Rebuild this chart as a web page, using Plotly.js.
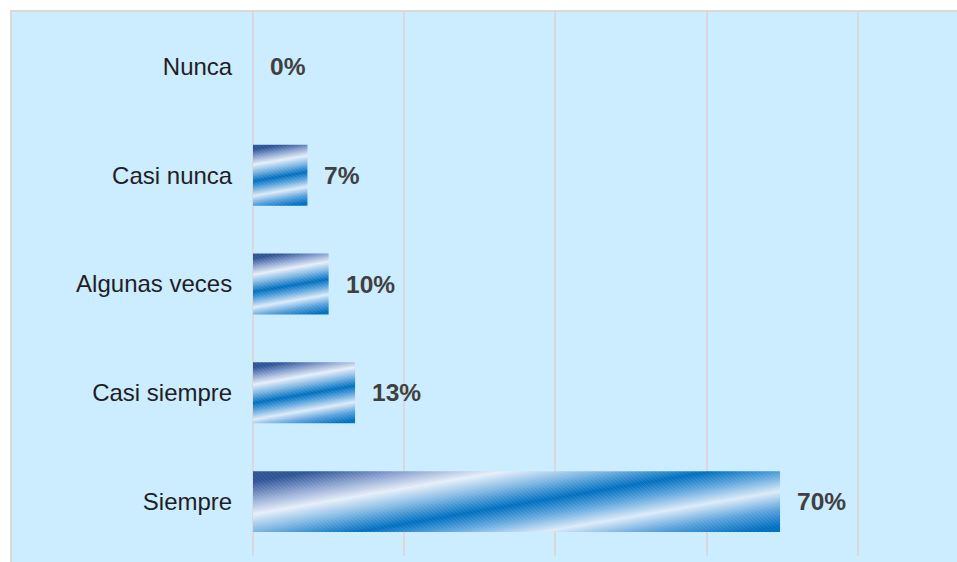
<!DOCTYPE html>
<html>
<head>
<meta charset="utf-8">
<script src="https://cdn.plot.ly/plotly-3.0.1.min.js"></script>
<style>
  html, body { margin: 0; padding: 0; background: #ffffff; }
  #chart { width: 957px; height: 562px; }
</style>
</head>
<body>
<div id="chart"></div>
<script>
// ---- data ----
const categories = ["Nunca", "Casi nunca", "Algunas veces", "Casi siempre", "Siempre"];
const values = [0, 7.2, 10, 13.5, 69.7];
const valueLabels = ["0%", "7%", "10%", "13%", "70%"];

const trace = {
  type: "bar",
  orientation: "h",
  y: categories,
  x: values,
  marker: { color: "#0070C0", line: { width: 0 } },
  hoverinfo: "none"
};

const annotations = categories.map((c, i) => ({
  x: values[i],
  y: c,
  xref: "x",
  yref: "y",
  text: "<b>" + valueLabels[i] + "</b>",
  showarrow: false,
  xanchor: "left",
  yanchor: "middle",
  xshift: 15,
  font: { family: "Liberation Sans, Arial, sans-serif", size: 24.5, color: "#404040" }
}));

const layout = {
  width: 957,
  height: 562,
  margin: { l: 253, r: 0, t: 12, b: 6, pad: 0 },
  paper_bgcolor: "#ffffff",
  plot_bgcolor: "rgba(0,0,0,0)",
  showlegend: false,
  bargap: 0.44,
  xaxis: {
    range: [0, 93.1],
    dtick: 20,
    tick0: 0,
    showticklabels: false,
    showgrid: true,
    gridcolor: "#D9D9D9",
    gridwidth: 2,
    zeroline: true,
    zerolinecolor: "#D9D9D9",
    zerolinewidth: 2,
    showline: false,
    fixedrange: true
  },
  yaxis: {
    type: "category",
    autorange: "reversed",
    showgrid: false,
    zeroline: false,
    showline: false,
    ticks: "outside",
    ticklen: 15,
    tickcolor: "rgba(0,0,0,0)",
    tickfont: { family: "Liberation Sans, Arial, sans-serif", size: 24, color: "#1f1f1f" },
    fixedrange: true
  },
  shapes: [{
    type: "rect",
    xref: "paper", yref: "paper",
    x0: -0.34375, x1: 1.3,
    y0: -0.2, y1: 1.00184,
    fillcolor: "#CCECFF",
    line: { color: "#D9D9D9", width: 2 },
    layer: "below"
  }],
  annotations: annotations
};

Plotly.newPlot("chart", [trace], layout, { displayModeBar: false, staticPlot: true }).then(gd => {
  const svgNS = "http://www.w3.org/2000/svg";
  const svg = gd.querySelector("svg.main-svg");
  const defs = document.createElementNS(svgNS, "defs");
  svg.insertBefore(defs, svg.firstChild);

  const stops = [
    [0.00, "#2F5597"],
    [0.07, "#2F5597"],
    [0.18, "#8EA6D2"],
    [0.285, "#E6EFF9"],
    [0.40, "#7DB6E3"],
    [0.52, "#0070C0"],
    [0.62, "#62A8DF"],
    [0.73, "#DDEBF8"],
    [0.85, "#5AA2DC"],
    [0.96, "#0070C0"],
    [1.00, "#0070C0"]
  ];
  const alpha = 9.7 * Math.PI / 180;
  const sa = Math.sin(alpha), ca = Math.cos(alpha);

  // fine diagonal texture
  const pat = document.createElementNS(svgNS, "pattern");
  pat.setAttribute("id", "tex");
  pat.setAttribute("patternUnits", "userSpaceOnUse");
  pat.setAttribute("width", "4");
  pat.setAttribute("height", "4");
  const pl = document.createElementNS(svgNS, "path");
  pl.setAttribute("d", "M-1,-1 L5,5");
  pl.setAttribute("stroke", "#ffffff");
  pl.setAttribute("stroke-opacity", "0.07");
  pl.setAttribute("stroke-width", "1");
  pat.appendChild(pl);
  defs.appendChild(pat);

  gd.querySelectorAll(".trace.bars .point path").forEach((p, i) => {
    const b = p.getBBox();
    if (b.width < 1 || b.height < 1) return;
    const L = b.width * sa + b.height * ca;
    const g = document.createElementNS(svgNS, "linearGradient");
    g.setAttribute("id", "barGrad" + i);
    g.setAttribute("gradientUnits", "userSpaceOnUse");
    g.setAttribute("x1", b.x);
    g.setAttribute("y1", b.y);
    g.setAttribute("x2", b.x + L * sa);
    g.setAttribute("y2", b.y + L * ca);
    stops.forEach(s => {
      const st = document.createElementNS(svgNS, "stop");
      st.setAttribute("offset", s[0]);
      st.setAttribute("stop-color", s[1]);
      g.appendChild(st);
    });
    defs.appendChild(g);
    p.style.fill = "url(#barGrad" + i + ")";
    p.style.fillOpacity = 1;
    const ov = p.cloneNode(false);
    ov.style.fill = "url(#tex)";
    ov.style.stroke = "none";
    p.parentNode.appendChild(ov);
  });
});
</script>
</body>
</html>
